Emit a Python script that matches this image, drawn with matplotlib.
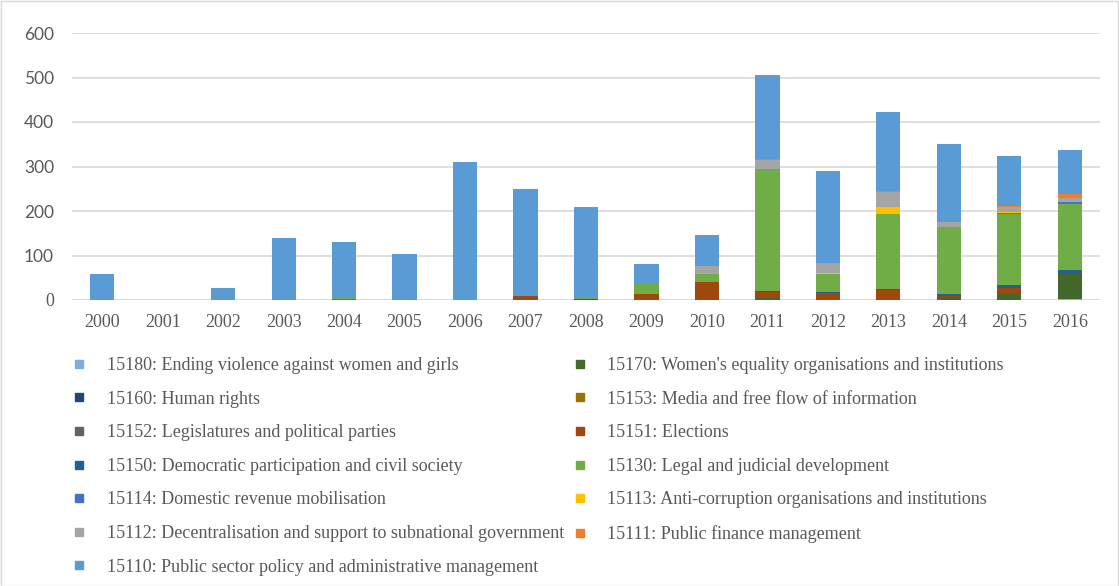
import matplotlib
matplotlib.use("Agg")
import matplotlib.pyplot as plt
from matplotlib.lines import Line2D
from matplotlib.patches import Rectangle
import numpy as np

years = [str(y) for y in range(2000, 2017)]

# series, bottom to top of the stack
s15180 = [0, 0, 0, 0, 0, 0, 0, 0, 0, 0, 0, 0, 0, 0, 0, 0, 3]
s15170 = [0, 0, 0, 0, 0, 0, 0, 0, 0, 0, 0, 4, 0, 0, 6, 15, 56]
s15160 = [0, 0, 0, 0, 0, 0, 0, 0, 0, 0, 0, 0, 0, 0, 1, 1, 0]
s15153 = [0, 0, 0, 0, 3, 0, 0, 0, 0, 0, 0, 0, 0, 0, 0, 0, 0]
s15152 = [0, 0, 0, 0, 0, 0, 0, 0, 0, 0, 0, 0, 0, 0, 0, 0, 0]
s15151 = [0, 0, 0, 0, 0, 0, 0, 8, 0, 14, 41, 15, 16, 23, 3, 12, 0]
s15150 = [0, 0, 0, 0, 0, 0, 0, 2, 3, 0, 0, 2, 2, 2, 3, 5, 9]
s15130 = [0, 0, 0, 0, 1, 0, 3, 0, 4, 24, 18, 273, 41, 168, 152, 161, 147]
s15114 = [0, 0, 0, 0, 0, 0, 0, 0, 0, 0, 0, 0, 0, 0, 0, 2, 5]
s15113 = [0, 0, 0, 0, 0, 0, 0, 0, 0, 0, 0, 0, 2, 15, 0, 2, 0]
s15112 = [0, 0, 0, 0, 0, 0, 0, 0, 0, 0, 17, 20, 22, 35, 10, 11, 10]
s15111 = [0, 0, 0, 0, 0, 0, 0, 0, 0, 0, 0, 2, 0, 2, 0, 2, 8]
s15110 = [58, 0, 27, 139, 126, 103, 306, 240, 201, 42, 71, 190, 207, 178, 175, 112, 100]

series = [
    ("15180: Ending violence against women and girls", s15180, "#7CAFDD"),
    ("15170: Women's equality organisations and institutions", s15170, "#43682B"),
    ("15160: Human rights", s15160, "#264478"),
    ("15153: Media and free flow of information", s15153, "#997300"),
    ("15152: Legislatures and political parties", s15152, "#636363"),
    ("15151: Elections", s15151, "#9E480E"),
    ("15150: Democratic participation and civil society", s15150, "#255E91"),
    ("15130: Legal and judicial development", s15130, "#70AD47"),
    ("15114: Domestic revenue mobilisation", s15114, "#4472C4"),
    ("15113: Anti-corruption organisations and institutions", s15113, "#FFC000"),
    ("15112: Decentralisation and support to subnational government", s15112, "#A5A5A5"),
    ("15111: Public finance management", s15111, "#ED7D31"),
    ("15110: Public sector policy and administrative management", s15110, "#5B9BD5"),
]

TXT = "#595959"
SERIF = ["Liberation Serif", "DejaVu Serif"]

fig = plt.figure(figsize=(11.19, 5.86), dpi=100)
ax = fig.add_axes([72 / 1119, 1 - 300 / 586, (1100 - 72) / 1119, (300 - 33) / 586])

x = np.arange(len(years))
bottom = np.zeros(len(years))
handles = []
for label, vals, col in series:
    v = np.array(vals, dtype=float)
    ax.bar(x, v, width=0.4, bottom=bottom, color=col, linewidth=0, zorder=3)
    bottom += v
    handles.append(Line2D([], [], marker="s", linestyle="", color=col,
                          markersize=5.5, label=label))

ax.set_xlim(-0.5, len(years) - 0.5)
ax.set_ylim(0, 600)
ax.set_yticks(range(0, 601, 100))
ax.yaxis.grid(True, color="#D9D9D9", linewidth=1.2, zorder=0)
for s in ax.spines.values():
    s.set_visible(False)
ax.axhline(0, color="#D9D9D9", linewidth=1.2, zorder=1)
ax.tick_params(axis="both", length=0, colors=TXT)
ax.set_xticks(x)
ax.set_xticklabels(years, fontfamily=SERIF, fontsize=13, color=TXT)
ax.tick_params(axis="x", pad=10)
ax.tick_params(axis="y", pad=13)
ylabels = ax.set_yticklabels([str(v) for v in range(0, 601, 100)], fontsize=12.5, color=TXT)
for i, t in enumerate(ylabels):
    t.set_fontfamily(SERIF if i == 0 else ["Lato", "DejaVu Sans"])
    if i == 0:
        t.set_fontsize(13)

# legend: reorder so that entries read row-wise in two columns
left_col = handles[0::2]
right_col = handles[1::2]
ordered = left_col + right_col
leg = fig.legend(handles=ordered, labels=[h.get_label() for h in ordered],
                 ncol=2, loc="upper left", bbox_to_anchor=(65 / 1119, 1 - 348 / 586),
                 frameon=False, prop={"family": SERIF, "size": 13},
                 handlelength=0.6, handletextpad=1.22, columnspacing=0.57,
                 labelspacing=0.92, borderpad=0.0, labelcolor=TXT)

fig.patches.append(Rectangle((0.5 / 1119, 0.5 / 586), 1 - 1.5 / 1119, 1 - 1.5 / 586,
                             transform=fig.transFigure, fill=False,
                             edgecolor="#D9D9D9", linewidth=1))

fig.savefig("out.png", dpi=100)
